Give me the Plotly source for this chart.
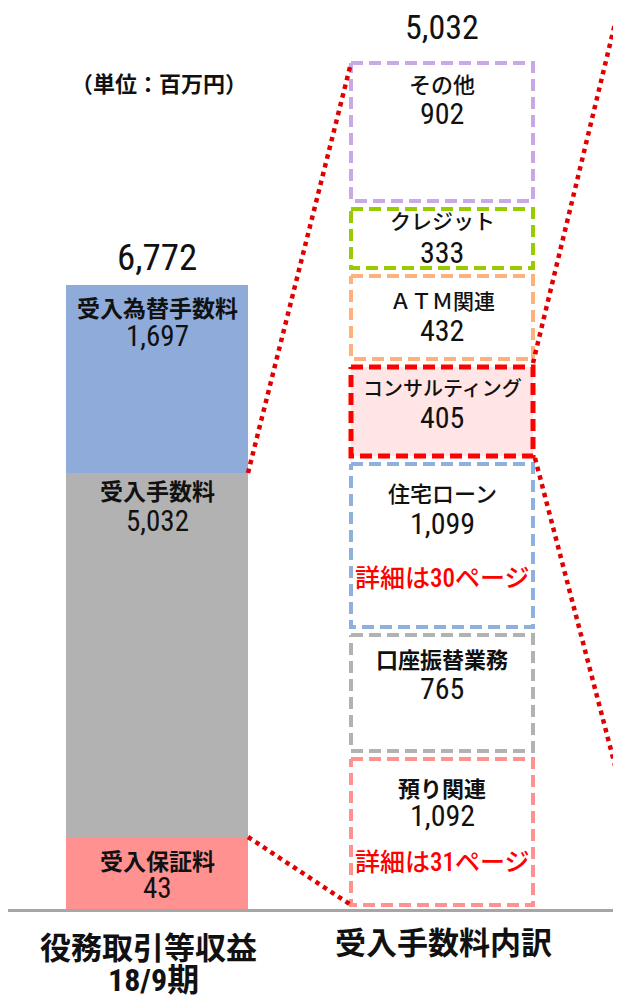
import plotly.graph_objects as go

# 役務取引等収益 18/9期 (left bar), bottom to top
left_names = ["受入保証料", "受入手数料", "受入為替手数料"]
left_values = [43, 5032, 1697]
left_total = 6772
# the slide does not draw segments to scale: heights as they appear on it
left_shown = [72, 364, 188]

# 受入手数料内訳 (right column), bottom to top
right_names = ["預り関連", "口座振替業務", "住宅ローン", "コンサルティング", "ＡＴＭ関連", "クレジット", "その他"]
right_values = [1092, 765, 1099, 405, 432, 333, 902]
right_total = 5032
right_shown = [146, 116, 163, 89, 83, 59, 138]
right_notes = ["詳細は31ページ", "", "詳細は30ページ", "", "", "", ""]

x_labels = ["役務取引等収益", "18/9期", "受入手数料内訳"]
unit_label = "（単位：百万円）"

FONT = "Roboto Condensed, Noto Sans CJK JP"
JP = "Noto Sans CJK JP"

LX, RX, W = 157, 442, 182
left_colors = ["#ff9191", "#b2b2b2", "#8eabda"]
left_drop = [(23, 51), (17, 48), (22, 51)]

box_line = ["#ff9191", "#b2b2b2", "#8eb0de", "#ff0000", "#ffb17d", "#99cc00", "#c9a8e8"]
box_fill = ["white", "white", "white", "#ffe5e5", "white", "white", "white"]
box_width = [4, 4, 4, 5, 4, 4, 4]
box_bold = [True, True, False, False, False, False, False]
box_name_size = [22, 22, 22, 20, 21, 21, 22]
box_drop = [(28, 56, 103), (23, 53, 0), (28, 59, 114), (20, 50, 0), (24, 54, 0), (11, 43, 0), (20, 50, 0)]
GAP, START = 8, 4

fig = go.Figure()

bases = []
acc = 0
for h in left_shown:
    bases.append(acc)
    acc += h
left_top = acc
fig.add_trace(go.Bar(
    x=[LX] * len(left_shown), y=left_shown, base=bases, width=W,
    marker=dict(color=left_colors, line=dict(width=0)),
    hoverinfo="skip", showlegend=False,
))

ann = []
for name, val, b, h, (d1, d2) in zip(left_names, left_values, bases, left_shown, left_drop):
    top = b + h
    ann.append(dict(x=LX, y=top - d1, text="<b>" + name + "</b>", font=dict(size=23, family=JP, color="#111")))
    ann.append(dict(x=LX, y=top - d2, text=f"{val:,}", font=dict(size=29, family=FONT, color="#111")))
ann.append(dict(x=LX, y=left_top + 28, text=f"{left_total:,}", font=dict(size=37, family=FONT, color="#111")))

x0, x1 = RX - W / 2, RX + W / 2
y = START
box_geo = []
for i, h in enumerate(right_shown):
    y0, y1 = y, y + h
    box_geo.append((y0, y1))
    fig.add_trace(go.Scatter(
        x=[x0, x1, x1, x0, x0], y=[y1, y1, y0, y0, y1], mode="lines",
        fill="toself", fillcolor=box_fill[i],
        line=dict(color=box_line[i], width=box_width[i], dash="12px,6px"),
        hoverinfo="skip", showlegend=False,
    ))
    d1, d2, d3 = box_drop[i]
    wt = 700 if box_bold[i] else 500
    ann.append(dict(x=RX, y=y1 - d1, text=right_names[i], font=dict(size=box_name_size[i], family=JP, color="#111", weight=wt)))
    ann.append(dict(x=RX, y=y1 - d2, text=f"{right_values[i]:,}", font=dict(size=30, family=FONT, color="#111")))
    if right_notes[i]:
        ann.append(dict(x=RX, y=y1 - d3, text=right_notes[i], font=dict(size=25, family=FONT, color="#ff0000", weight=500)))
    y = y1 + GAP
right_top = box_geo[-1][1]
ann.append(dict(x=RX, y=right_top + 36, text=f"{right_total:,}", font=dict(size=34, family=FONT, color="#111")))

dot = dict(color="#e00000", width=4.5, dash="dot")
consult = box_geo[3]
ata = box_geo[4]
lines = [
    ([LX + W / 2, x0], [left_shown[0] + left_shown[1], right_top]),
    ([LX + W / 2, x0], [left_shown[0], box_geo[0][0]]),
    ([x1, 640], [(ata[0] + consult[1]) / 2, 989]),
    ([x1 + 2, 702], [consult[0] - 2, -191]),
]
for xs, ys in lines:
    fig.add_trace(go.Scatter(x=xs, y=ys, mode="lines", line=dot, hoverinfo="skip", showlegend=False))

fig.add_trace(go.Scatter(x=[4, 621], y=[-1.5, -1.5], mode="lines",
                         line=dict(color="#a6a6a6", width=3), hoverinfo="skip", showlegend=False))

ann.append(dict(x=148, y=-36, text="<b>" + x_labels[0] + "</b>", font=dict(size=31, family=JP, color="#111")))
ann.append(dict(x=153, y=-71, text="<b>" + x_labels[1] + "</b>", font=dict(size=32, family=FONT, color="#111")))
ann.append(dict(x=443, y=-31, text="<b>" + x_labels[2] + "</b>", font=dict(size=31, family=JP, color="#111")))
ann.append(dict(x=159, y=827, text="<b>" + unit_label + "</b>", font=dict(size=22, family=JP, color="#111")))

for a in ann:
    a.update(xref="x", yref="y", showarrow=False, xanchor="center", yanchor="middle")

# page body has an 8px margin: shrink the figure and shift the ranges to keep pixel alignment
OFF = 8
fig.update_layout(
    width=621 - OFF, height=995 - OFF,
    margin=dict(l=0, r=0, t=0, b=0),
    paper_bgcolor="white", plot_bgcolor="white",
    barmode="overlay",
    xaxis=dict(range=[OFF, 621], visible=False, fixedrange=True),
    yaxis=dict(range=[-86, 909 - OFF], visible=False, fixedrange=True),
    annotations=ann,
    showlegend=False,
)

fig.write_html("out.html")
